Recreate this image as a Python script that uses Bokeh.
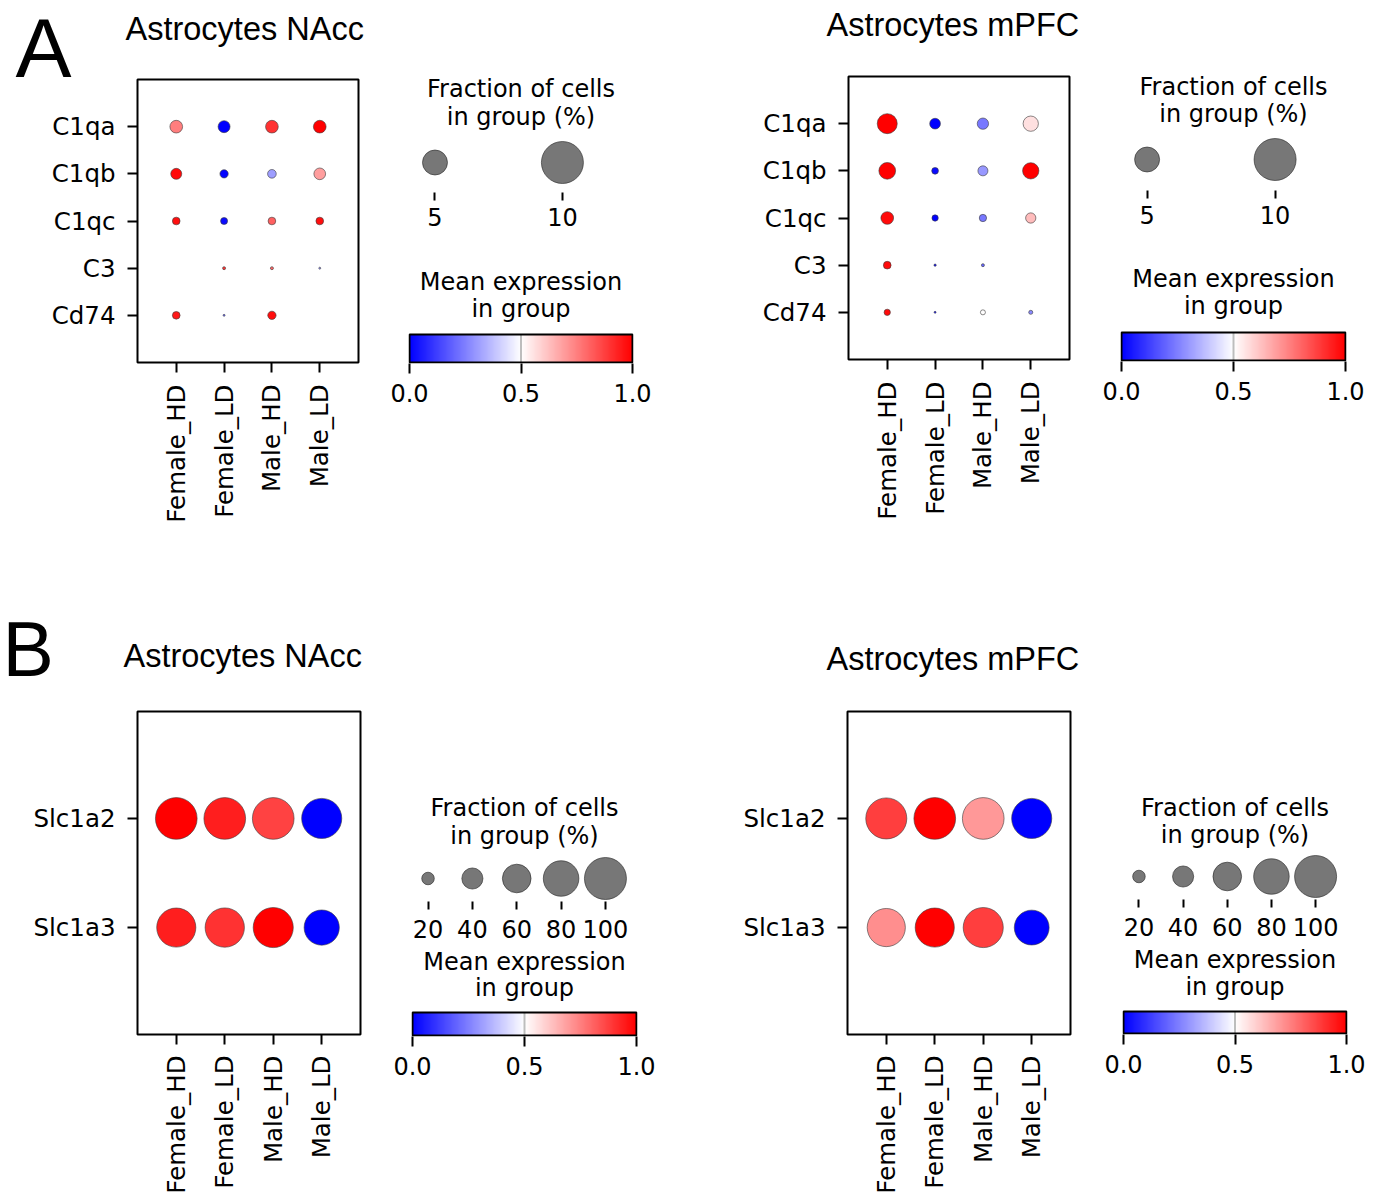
import numpy as np
from bokeh.plotting import figure
from bokeh.models import (FactorRange, Range1d, ColumnDataSource, LinearColorMapper,
                          Label, FixedTicker, PrintfTickFormatter)
from bokeh.layouts import row, column
from bokeh.transform import transform
from bokeh.embed import file_html
from bokeh.resources import INLINE

# ---------------- data ----------------
GROUPS = ["Female_HD", "Female_LD", "Male_HD", "Male_LD"]
GENES_A = ["C1qa", "C1qb", "C1qc", "C3", "Cd74"]
GENES_B = ["Slc1a2", "Slc1a3"]

# mean expression in group (scaled 0..1); rows = genes, columns = groups
EXPR_A_NACC = [
    [0.75, 0.00, 0.90, 1.00],
    [0.98, 0.01, 0.31, 0.69],
    [0.97, 0.02, 0.81, 0.97],
    [0.00, 0.90, 0.80, 0.30],
    [0.95, 0.20, 0.97, 0.00],
]
# fraction of cells in group (%)
FRAC_A_NACC = [
    [2.03, 1.88, 2.03, 2.03],
    [1.68, 1.15, 1.22, 1.82],
    [1.04, 0.92, 1.04, 1.04],
    [0.00, 0.30, 0.30, 0.17],
    [1.04, 0.17, 1.15, 0.00],
]
EXPR_A_MPFC = [
    [1.00, 0.00, 0.235, 0.56],
    [1.00, 0.02, 0.30, 1.00],
    [0.98, 0.00, 0.235, 0.63],
    [0.98, 0.05, 0.20, 0.00],
    [0.98, 0.05, 0.50, 0.27],
]
FRAC_A_MPFC = [
    [3.72, 1.62, 1.74, 2.60],
    [2.93, 0.87, 1.48, 2.83],
    [2.03, 0.80, 0.97, 1.53],
    [1.04, 0.21, 0.30, 0.00],
    [0.80, 0.17, 0.59, 0.44],
]
EXPR_B_NACC = [
    [1.00, 0.94, 0.87, 0.00],
    [0.94, 0.90, 1.00, 0.00],
]
FRAC_B_NACC = [
    [99.0, 99.0, 99.0, 94.0],
    [91.0, 91.5, 94.0, 79.0],
]
EXPR_B_MPFC = [
    [0.875, 1.00, 0.70, 0.00],
    [0.72, 1.00, 0.875, 0.00],
]
FRAC_B_MPFC = [
    [97.0, 99.0, 99.0, 94.0],
    [88.0, 91.0, 94.0, 78.0],
]
SIZE_LEGEND_A = [5, 10]
SIZE_MAX_A = 10
SIZE_LEGEND_B = [20, 40, 60, 80, 100]
SIZE_MAX_B = 100
CBAR_LOW, CBAR_HIGH = 0.0, 1.0
CBAR_TICKS = [0.0, 0.5, 1.0]

# ---------------- style ----------------
DOT_PX = 42.0          # diameter of the largest dot
FONT = "DejaVu Sans"
TFONT = "Liberation Sans"
FS = "24px"
AXFS = "24.5px"
MID_SHIFT = 0.3465     # (ascent - descent) / 2 in em, for placing text by baseline


def bwr(n=256):
    cols = []
    for i in range(n):
        t = i / (n - 1)
        if t < 0.5:
            r = g = 2 * t
            b = 1.0
        else:
            r = 1.0
            g = b = 2 * (1 - t)
        cols.append("#%02x%02x%02x" % (round(r * 255), round(g * 255), round(b * 255)))
    return cols


MAPPER = LinearColorMapper(palette=bwr(), low=CBAR_LOW, high=CBAR_HIGH)


def dot_size(f, fmax):
    return DOT_PX * (f / fmax) ** 0.75


def base_fig(bl, fw, br, bt, fh, bb, **kw):
    p = figure(width=bl + fw + br, height=bt + fh + bb,
               min_border_left=bl, min_border_right=br,
               min_border_top=bt, min_border_bottom=bb,
               frame_align=False,
               toolbar_location=None, tools="", output_backend="svg", **kw)
    p.background_fill_color = "white"
    p.border_fill_color = "white"
    p.grid.visible = False
    return p


def style_axis(ax, tick_out, standoff, fs=FS):
    ax.axis_line_color = None
    ax.major_tick_out = tick_out
    ax.major_tick_in = 0
    ax.major_tick_line_width = 2
    ax.major_tick_line_color = "black"
    ax.minor_tick_line_color = None
    ax.major_label_text_font = FONT
    ax.major_label_text_font_size = fs
    ax.major_label_text_color = "black"
    ax.major_label_standoff = standoff


def band_fig(w, h, texts):
    """Header strip holding the panel letter and the panel title (y grows downward)."""
    p = figure(width=w, height=h, x_range=Range1d(0, w), y_range=Range1d(h, 0),
               min_border_left=0, min_border_right=0, min_border_top=0,
               min_border_bottom=0, frame_align=False,
               x_axis_location=None, y_axis_location=None,
               toolbar_location=None, tools="", output_backend="svg")
    p.outline_line_color = None
    p.grid.visible = False
    p.border_fill_color = "white"
    p.background_fill_color = "white"
    for (txt, x, baseline, size) in texts:
        p.add_layout(Label(x=x, y=baseline - MID_SHIFT * size, text=txt, text_font=TFONT,
                           text_font_size="%.1fpx" % size, text_color="black",
                           text_align="left", text_baseline="alphabetic"))
    return p


def dot_figure(genes, expr, frac, fmax, bl, fw, br, bt, fh, bb, xpad, ypad, xstand=12):
    p = base_fig(bl, fw, br, bt, fh, bb,
                 x_range=FactorRange(factors=GROUPS, range_padding=xpad,
                                     range_padding_units="absolute"),
                 y_range=FactorRange(factors=genes[::-1], range_padding=ypad,
                                     range_padding_units="absolute"))
    xs, ys, es, ss = [], [], [], []
    for gi, g in enumerate(genes):
        for ci, c in enumerate(GROUPS):
            f = frac[gi][ci]
            if f <= 0:
                continue
            xs.append(c)
            ys.append(g)
            es.append(expr[gi][ci])
            ss.append(dot_size(f, fmax))
    src = ColumnDataSource(dict(x=xs, y=ys, expr=es, size=ss))
    p.scatter("x", "y", size="size", source=src,
              fill_color=transform("expr", MAPPER),
              line_color="#3a3a3a", line_width=0.6)
    p.outline_line_color = "black"
    p.outline_line_width = 2
    p.outline_line_alpha = 1
    style_axis(p.xaxis[0], 10, xstand, AXFS)
    style_axis(p.yaxis[0], 10, 12, AXFS)
    p.xaxis.major_label_orientation = np.pi / 2
    return p


def size_legend(values, fmax, bl, fw, br, bt, fh, bb, dot_y, t1, t2, standoff):
    n = len(values)
    margin = 0.05 * (n - 1)
    xr = Range1d(0.5 - margin - 0.15, n - 0.5 + margin + 0.5)
    p = base_fig(bl, fw, br, bt, fh, bb, x_range=xr, y_range=Range1d(0, fh),
                 y_axis_location=None)
    p.outline_line_color = None
    xs = [i + 0.5 for i in range(n)]
    p.scatter(x=xs, y=[dot_y] * n, size=[dot_size(v, fmax) for v in values],
              fill_color="#777777", line_color="#222222", line_width=0.6)
    ax = p.xaxis[0]
    style_axis(ax, 8, standoff)
    ax.ticker = FixedTicker(ticks=xs)
    ax.major_label_overrides = {x: str(v) for x, v in zip(xs, values)}
    cx = (xr.start + xr.end) / 2
    for txt, yy in (("Fraction of cells", t1), ("in group (%)", t2)):
        p.add_layout(Label(x=cx, y=yy, text=txt, text_font=FONT, text_font_size=FS,
                           text_align="center", text_baseline="alphabetic",
                           text_color="black"))
    return p


def colorbar_fig(bl, bar_w, br, bt, top_margin, bar_h, bb, t1, t2):
    span = CBAR_HIGH - CBAR_LOW
    ex = span / bar_w          # one pixel in data units (x)
    xr = Range1d(CBAR_LOW - ex, CBAR_HIGH + ex)
    yr = Range1d(-1.0 / bar_h, 1.0 + top_margin / bar_h)
    p = base_fig(bl - 1, bar_w + 2, br - 1, bt, top_margin + bar_h + 1, bb,
                 x_range=xr, y_range=yr, y_axis_location=None)
    p.outline_line_color = None
    grad = np.linspace(CBAR_LOW, CBAR_HIGH, 256).reshape(1, -1)
    p.image(image=[grad], x=CBAR_LOW, y=0, dw=span, dh=1, color_mapper=MAPPER)
    mid = (CBAR_LOW + CBAR_HIGH) / 2
    p.segment(x0=[mid], y0=[0], x1=[mid], y1=[1], line_color="#bdbdbd", line_width=2)
    p.quad(left=[CBAR_LOW], right=[CBAR_HIGH], bottom=[0], top=[1],
           fill_color=None, line_color="black", line_width=2)
    ax = p.xaxis[0]
    style_axis(ax, 10, 10)
    ax.ticker = FixedTicker(ticks=CBAR_TICKS)
    ax.formatter = PrintfTickFormatter(format="%.1f")
    for txt, px in (("Mean expression", t1), ("in group", t2)):
        p.add_layout(Label(x=mid, y=1 + px / bar_h, text=txt, text_font=FONT,
                           text_font_size=FS, text_align="center",
                           text_baseline="alphabetic", text_color="black"))
    return p


# ---------------- row A (height 560) ----------------
bandA_l = band_fig(378, 78, [("A", 15, 77, 84), ("Astrocytes NAcc", 125, 40, 32.5)])
dotA_l = dot_figure(GENES_A, EXPR_A_NACC, FRAC_A_NACC, SIZE_MAX_A,
                    137, 221, 20, 1, 283, 198, 0.31, 0.5)
szA_l = size_legend(SIZE_LEGEND_A, SIZE_MAX_A, 31, 223, 36, 62, 130, 56, 30, 104, 76, 7)
cbA_l = colorbar_fig(31, 223, 36, 16, 70, 28, 197, 53, 26)

bandA_r = band_fig(421, 75, [("Astrocytes mPFC", 158, 36, 32.5)])
dotA_r = dot_figure(GENES_A, EXPR_A_MPFC, FRAC_A_MPFC, SIZE_MAX_A,
                    180, 221, 20, 1, 283, 201, 0.31, 0.5)
szA_r = size_legend(SIZE_LEGEND_A, SIZE_MAX_A, 32, 224, 28, 60, 130, 58, 31, 104, 77, 7)
cbA_r = colorbar_fig(32, 224, 28, 14, 70, 28, 199, 54, 27)

# ---------------- row B (height 636) ----------------
bandB_l = band_fig(380, 150, [("B", 2, 115, 77), ("Astrocytes NAcc", 123, 107, 32.5)])
dotB_l = dot_figure(GENES_B, EXPR_B_NACC, FRAC_B_NACC, SIZE_MAX_B,
                    137, 223, 20, 1, 323, 162, 0.30, 0.48, xstand=11)
szB_l = size_legend(SIZE_LEGEND_B, SIZE_MAX_B, 32, 224, 32, 221, 120, 46, 23, 94, 66, 10)
cbB_l = colorbar_fig(32, 224, 32, 0, 65, 23, 160, 51, 25)

bandB_r = band_fig(423, 150, [("Astrocytes mPFC", 158, 110, 32.5)])
dotB_r = dot_figure(GENES_B, EXPR_B_MPFC, FRAC_B_MPFC, SIZE_MAX_B,
                    179, 223, 21, 1, 323, 162, 0.30, 0.48, xstand=11)
szB_r = size_legend(SIZE_LEGEND_B, SIZE_MAX_B, 32, 223, 27, 219, 120, 46, 23, 92, 65, 10)
cbB_r = colorbar_fig(32, 223, 27, 0, 66, 22, 162, 52, 25)

rowA = row(column(bandA_l, dotA_l), column(szA_l, cbA_l),
           column(bandA_r, dotA_r), column(szA_r, cbA_r))
rowB = row(column(bandB_l, dotB_l), column(szB_l, cbB_l),
           column(bandB_r, dotB_r), column(szB_r, cbB_r))
layout = column(rowA, rowB)

open("out.html", "w").write(file_html(layout, INLINE, title="Astrocyte dot plots"))
